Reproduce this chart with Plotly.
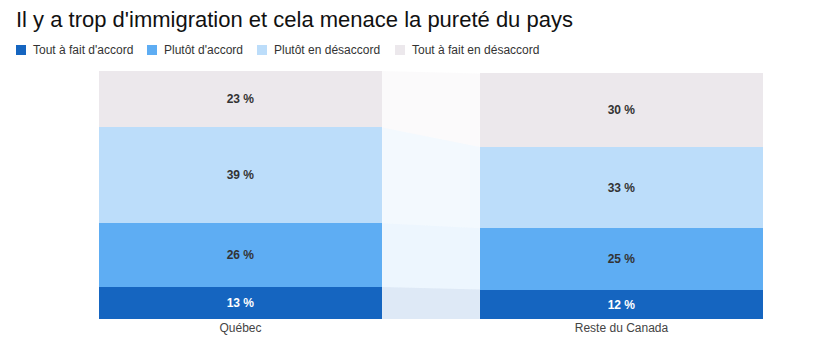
import plotly.graph_objects as go

# ---- data ----
title_text = "Il y a trop d'immigration et cela menace la pureté du pays"
regions = ["Québec", "Reste du Canada"]
series_names = ["Tout à fait d'accord", "Plutôt d'accord", "Plutôt en désaccord", "Tout à fait en désaccord"]
values_quebec = [13, 26, 39, 23]
values_canada = [12, 25, 33, 30]

# ---- styling ----
colors = ["#1565C0", "#5EADF3", "#BCDDFA", "#ECE8EC"]
ribbon_colors = ["rgba(21,101,192,0.14)", "rgba(94,173,243,0.11)", "rgba(188,221,250,0.18)", "rgba(236,232,236,0.22)"]
label_colors = ["#FFFFFF", "#333333", "#333333", "#333333"]
FONT = "Arial, 'Liberation Sans', sans-serif"

# page has an 8px body margin: figure occupies reference pixels 8..836 x 8..356
OFF = 8
W, H = 836 - OFF, 356 - OFF
ML, MR, MT, MB = 99 - OFF, 73, 71 - OFF, 37
PW, PH = W - ML - MR, H - MT - MB
bar_w = 0.743
xs = [0, 1]

fig = go.Figure()

# ribbons connecting segments
cq = cc = 0
for i, name in enumerate(series_names):
    q_lo, q_hi = cq, cq + values_quebec[i]
    c_lo, c_hi = cc, cc + values_canada[i]
    cq, cc = q_hi, c_hi
    x0 = xs[0] + bar_w / 2
    x1 = xs[1] - bar_w / 2
    fig.add_trace(go.Scatter(
        x=[x0, x1, x1, x0, x0], y=[q_lo, c_lo, c_hi, q_hi, q_lo],
        fill="toself", fillcolor=ribbon_colors[i], mode="none",
        hoverinfo="skip", showlegend=False,
    ))

# stacked bars
for i, name in enumerate(series_names):
    vals = [values_quebec[i], values_canada[i]]
    fig.add_trace(go.Bar(
        x=xs, y=vals, name=name, width=bar_w,
        marker=dict(color=colors[i], line=dict(width=0)),
        text=[f"{v} %" for v in vals], textposition="inside",
        insidetextanchor="middle", constraintext="none",
        textfont=dict(family=FONT, size=12, color=label_colors[i], weight="bold"),
        hoverinfo="skip", showlegend=False,
    ))

# manual legend (squares + labels), positions given in reference-page pixels
def px_x(p):
    return (p - OFF - ML) / PW

def px_y(p):
    return (H - MB - (p - OFF)) / PH

legend_sq_x = [16, 147, 257, 395]
shapes = []
annotations = []
for i, name in enumerate(series_names):
    sx = legend_sq_x[i]
    shapes.append(dict(
        type="rect", xref="paper", yref="paper",
        x0=px_x(sx), x1=px_x(sx + 10), y0=px_y(55), y1=px_y(45),
        fillcolor=colors[i], line=dict(width=0),
    ))
    annotations.append(dict(
        text=name, xref="paper", yref="paper",
        x=px_x(sx + 15), y=px_y(50), xanchor="left", yanchor="middle",
        showarrow=False, font=dict(family=FONT, size=12, color="#333333"),
    ))

fig.update_layout(
    width=W, height=H,
    margin=dict(l=ML, r=MR, t=MT, b=MB),
    paper_bgcolor="white", plot_bgcolor="white",
    barmode="stack", bargap=0,
    title=dict(text=title_text, xref="container", yref="container",
               x=(16 - OFF) / W, y=1 - (19 - OFF) / H, xanchor="left", yanchor="middle",
               font=dict(family=FONT, size=22, color="#111111")),
    xaxis=dict(range=[xs[0] - bar_w / 2, xs[1] + bar_w / 2], tickvals=xs, ticktext=regions,
               showgrid=False, zeroline=False, showline=False, ticks="",
               tickfont=dict(family=FONT, size=12, color="#444444"), fixedrange=True),
    yaxis=dict(range=[0, 101], visible=False, showgrid=False, zeroline=False, fixedrange=True),
    shapes=shapes, annotations=annotations,
    showlegend=False,
)

fig.write_html("out.html")
